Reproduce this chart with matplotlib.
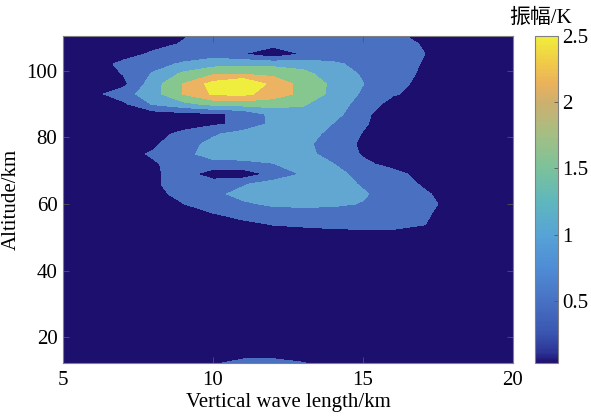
import numpy as np
import matplotlib
matplotlib.use("Agg")
import matplotlib.pyplot as plt
from matplotlib.colors import LinearSegmentedColormap, Normalize
from matplotlib.cm import ScalarMappable

plt.rcParams['font.family'] = ['Liberation Serif', 'Noto Sans CJK SC', 'DejaVu Sans']

# vertical wavelength (km) and altitude (km) grid of the amplitude map
wavelength = [5, 6, 7, 8, 9, 10, 11, 12, 13, 14, 15, 16, 17, 18, 19, 20]
altitude = [12, 16, 22, 30, 38, 45, 51, 54, 57, 60, 63, 66, 69, 72, 75, 78,
            81, 84, 87, 90, 93, 96, 99, 102, 105, 108, 111]

# amplitude (K), one row per altitude
amp_rows = [
    [0.04, 0.06, 0.10, 0.16, 0.26, 0.38, 0.52, 0.52, 0.43, 0.30, 0.20, 0.14, 0.10, 0.06, 0.04, 0.03],  # 12
    [0.03, 0.04, 0.05, 0.07, 0.10, 0.14, 0.20, 0.22, 0.20, 0.16, 0.12, 0.08, 0.06, 0.04, 0.03, 0.03],  # 16
    [0.03, 0.03, 0.03, 0.04, 0.05, 0.06, 0.08, 0.10, 0.10, 0.08, 0.06, 0.05, 0.04, 0.03, 0.03, 0.03],  # 22
    [0.03, 0.03, 0.04, 0.04, 0.05, 0.05, 0.06, 0.06, 0.06, 0.06, 0.06, 0.05, 0.05, 0.04, 0.04, 0.03],  # 30
    [0.04, 0.04, 0.05, 0.05, 0.06, 0.06, 0.07, 0.08, 0.08, 0.09, 0.09, 0.08, 0.07, 0.06, 0.05, 0.04],  # 38
    [0.05, 0.05, 0.05, 0.06, 0.07, 0.08, 0.10, 0.12, 0.14, 0.16, 0.16, 0.16, 0.14, 0.10, 0.08, 0.06],  # 45
    [0.06, 0.06, 0.06, 0.08, 0.10, 0.14, 0.18, 0.24, 0.26, 0.28, 0.30, 0.30, 0.24, 0.14, 0.10, 0.08],  # 51
    [0.06, 0.06, 0.08, 0.12, 0.16, 0.22, 0.32, 0.42, 0.46, 0.50, 0.52, 0.52, 0.42, 0.22, 0.12, 0.10],  # 54
    [0.06, 0.08, 0.12, 0.18, 0.28, 0.38, 0.52, 0.62, 0.64, 0.64, 0.62, 0.58, 0.46, 0.24, 0.14, 0.12],  # 57
    [0.08, 0.10, 0.16, 0.26, 0.39, 0.60, 0.74, 0.86, 0.88, 0.86, 0.78, 0.64, 0.52, 0.28, 0.16, 0.12],  # 60
    [0.08, 0.12, 0.20, 0.30, 0.50, 0.70, 0.92, 0.98, 1.00, 0.98, 0.84, 0.64, 0.46, 0.24, 0.14, 0.12],  # 63
    [0.08, 0.12, 0.22, 0.34, 0.56, 0.64, 0.76, 0.96, 1.00, 0.96, 0.76, 0.60, 0.36, 0.20, 0.14, 0.12],  # 66
    [0.08, 0.12, 0.20, 0.32, 0.60, 0.15, 0.15, 0.52, 0.84, 0.92, 0.68, 0.52, 0.28, 0.16, 0.12, 0.12],  # 69
    [0.08, 0.12, 0.22, 0.36, 0.54, 0.68, 0.70, 0.79, 0.94, 0.81, 0.48, 0.28, 0.18, 0.14, 0.12, 0.12],  # 72
    [0.08, 0.14, 0.28, 0.44, 0.70, 0.94, 0.96, 0.92, 0.90, 0.68, 0.36, 0.22, 0.16, 0.12, 0.12, 0.12],  # 75
    [0.08, 0.12, 0.20, 0.34, 0.62, 0.92, 1.04, 1.04, 0.90, 0.60, 0.34, 0.20, 0.14, 0.12, 0.12, 0.12],  # 78
    [0.08, 0.10, 0.14, 0.28, 0.48, 0.74, 0.98, 1.04, 0.98, 0.68, 0.38, 0.20, 0.14, 0.12, 0.12, 0.12],  # 81
    [0.08, 0.10, 0.12, 0.18, 0.26, 0.34, 0.48, 0.90, 1.00, 0.79, 0.44, 0.22, 0.16, 0.14, 0.12, 0.12],  # 84
    [0.10, 0.12, 0.14, 0.20, 0.28, 0.34, 0.48, 0.92, 1.08, 0.98, 0.46, 0.24, 0.16, 0.14, 0.12, 0.12],  # 87
    [0.12, 0.18, 0.32, 0.84, 1.08, 1.32, 1.38, 1.36, 1.24, 0.98, 0.66, 0.24, 0.18, 0.16, 0.14, 0.12],  # 90
    [0.14, 0.28, 0.62, 1.04, 1.62, 2.05, 2.10, 1.82, 1.48, 1.10, 0.74, 0.44, 0.26, 0.18, 0.14, 0.12],  # 93
    [0.12, 0.18, 0.28, 1.02, 1.61, 2.15, 2.50, 1.84, 1.48, 1.12, 0.81, 0.52, 0.30, 0.18, 0.14, 0.12],  # 96
    [0.12, 0.24, 0.41, 0.84, 1.28, 1.56, 1.58, 1.52, 1.32, 1.00, 0.76, 0.58, 0.34, 0.20, 0.14, 0.12],  # 99
    [0.12, 0.28, 0.46, 0.64, 0.86, 1.04, 1.10, 1.08, 1.04, 0.86, 0.70, 0.56, 0.38, 0.24, 0.16, 0.12],  # 102
    [0.12, 0.18, 0.30, 0.44, 0.56, 0.62, 0.41, 0.10, 0.43, 0.60, 0.64, 0.58, 0.41, 0.24, 0.16, 0.12],  # 105
    [0.12, 0.18, 0.24, 0.32, 0.42, 0.56, 0.60, 0.54, 0.60, 0.64, 0.60, 0.52, 0.38, 0.24, 0.16, 0.12],  # 108
    [0.12, 0.16, 0.20, 0.28, 0.37, 0.48, 0.60, 0.64, 0.64, 0.60, 0.54, 0.44, 0.32, 0.20, 0.14, 0.12],  # 111
]

levels = [0, 0.4, 0.8, 1.2, 1.6, 2.0, 2.6]
fill_colors = ['#1c0f6e', '#4a70c2', '#62a7d1', '#86c68f', '#ebb362', '#efed3e']

# colorbar colour stops (value in K, colour)
cbar_stops = [(0.03, '#1f0f6e'), (0.1, '#2b3294'), (0.25, '#3a55b0'), (0.5, '#4872c3'),
              (0.75, '#4f8cd6'), (1.0, '#57a3d6'), (1.25, '#5fb7bd'), (1.5, '#7bc29b'),
              (1.75, '#a3bf84'), (2.0, '#cdb06f'), (2.15, '#ebb25a'), (2.3, '#f0ca48'),
              (2.5, '#f1ed3b')]

amp = np.array(amp_rows)
X, Y = np.meshgrid(wavelength, altitude)

fig = plt.figure(figsize=(5.91, 4.17), dpi=100)
ax = fig.add_axes([0.1066, 0.1295, 0.7614, 0.7842])
cax = fig.add_axes([0.9052, 0.1295, 0.0389, 0.7842])

ax.contourf(X, Y, amp, levels=levels, colors=fill_colors)
ax.set_xlim(5, 20)
ax.set_ylim(12.3, 110.4)
ax.set_xticks([5, 10, 15, 20])
ax.set_yticks([20, 40, 60, 80, 100])
ax.tick_params(direction='in', top=True, right=True, length=4, width=0.6,
               colors='#555555', labelcolor='black', labelsize=15)
ax.tick_params(axis='x', pad=6)
ax.tick_params(axis='y', pad=4)
for sp in ax.spines.values():
    sp.set_color('#808080')
    sp.set_linewidth(0.8)
ax.set_xlabel('Vertical wave length/km', fontsize=15, labelpad=2)
ax.set_ylabel('Altitude/km', fontsize=15, labelpad=4)

vmin, vmax = amp.min(), amp.max()
pos = [(v - vmin) / (vmax - vmin) for v, c in cbar_stops]
pos[0], pos[-1] = 0.0, 1.0
cmap = LinearSegmentedColormap.from_list('amp', list(zip(pos, [c for v, c in cbar_stops])))
sm = ScalarMappable(norm=Normalize(vmin=vmin, vmax=vmax), cmap=cmap)
cb = fig.colorbar(sm, cax=cax, ticks=[0.5, 1, 1.5, 2, 2.5])
cb.ax.set_yticklabels(['0.5', '1', '1.5', '2', '2.5'])
cb.ax.tick_params(direction='in', length=3, width=0.6, colors='#555555',
                  labelcolor='black', labelsize=15, pad=3)
cb.outline.set_edgecolor('#808080')
cb.outline.set_linewidth(0.8)
fig.text(541 / 591, 1 - 18 / 417, '振幅/K', fontsize=15, ha='center', va='center')

fig.savefig('out.png', dpi=100)
